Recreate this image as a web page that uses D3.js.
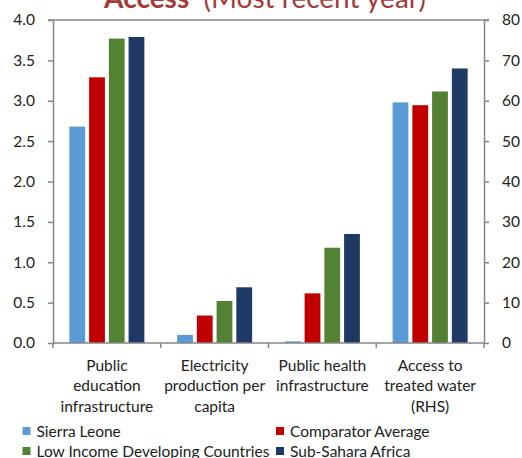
<!DOCTYPE html>
<html><head><meta charset="utf-8">
<script src="https://d3js.org/d3.v7.min.js"></script>
<style>body{margin:0;background:#fff}svg{display:block}text{font-family:Lato,"Open Sans",sans-serif}</style>
</head><body>
<script>
const categories = [["Public","education","infrastructure"],["Electricity","production per","capita"],["Public health","infrastructure"],["Access to","treated water","(RHS)"]];
const seriesNames = ["Sierra Leone","Comparator Average","Low Income Developing Countries","Sub-Sahara Africa"];
const sierraLeone = [2.68, 0.10, 0.02, 59.6];
const comparatorAvg = [3.29, 0.34, 0.615, 58.9];
const lowIncome = [3.77, 0.52, 1.18, 62.3];
const subSahara = [3.79, 0.69, 1.35, 68.0];
const colors = ["#5b9bd5","#c00000","#548235","#1f3864"];
const leftTicks = [0,0.5,1,1.5,2,2.5,3,3.5,4];
const rightTicks = [0,10,20,30,40,50,60,70,80];
const rhsIndex = 3;

const W=522,H=458, L=53, R=484, T=20, B=343, FS=15.5;
const svg=d3.select("body").append("svg").attr("width",W).attr("height",H);
const values=[sierraLeone,comparatorAvg,lowIncome,subSahara];
const x0=d3.scaleBand().domain(d3.range(categories.length)).range([L,R]).padding(0);
const x1=d3.scaleBand().domain(d3.range(seriesNames.length)).range([0,x0.bandwidth()]).paddingInner(0.2).paddingOuter(0.83);
const yL=d3.scaleLinear().domain([0,4]).range([B,T]);
const yR=d3.scaleLinear().domain([0,80]).range([B,T]);
const axisColor="#868686";

// bars
values.forEach((vals,si)=>{
  svg.append("g").selectAll("rect").data(vals).join("rect")
    .attr("x",(d,i)=>x0(i)+x1(si)).attr("width",x1.bandwidth())
    .attr("y",(d,i)=>(i===rhsIndex?yR:yL)(d))
    .attr("height",(d,i)=>B-(i===rhsIndex?yR:yL)(d))
    .attr("fill",colors[si]);
});

// axes
const gl=svg.append("g").attr("transform",`translate(${L},0)`)
  .call(d3.axisLeft(yL).tickValues(leftTicks).tickFormat(d3.format(".1f")).tickSize(5).tickSizeOuter(0).tickPadding(13));
const gr=svg.append("g").attr("transform",`translate(${R},0)`)
  .call(d3.axisRight(yR).tickValues(rightTicks).tickFormat(d3.format("d")).tickSize(5).tickSizeOuter(0).tickPadding(13));
[gl,gr].forEach(g=>{
  g.select(".domain").attr("stroke",axisColor).attr("stroke-width",1.5);
  g.selectAll(".tick line").attr("stroke",axisColor).attr("stroke-width",1.5);
  g.selectAll(".tick text").attr("font-size",FS).attr("fill","#222").attr("font-family","Lato");
});
svg.append("line").attr("x1",L-5).attr("x2",R+5).attr("y1",T).attr("y2",T).attr("stroke",axisColor).attr("stroke-width",1.5);
const gb=svg.append("g").attr("transform",`translate(0,${B})`);
gb.append("line").attr("x1",L).attr("x2",R).attr("stroke",axisColor).attr("stroke-width",1.5);
gb.selectAll("line.t").data(d3.range(categories.length+1)).join("line").attr("class","t")
  .attr("x1",i=>L+i*x0.step()).attr("x2",i=>L+i*x0.step()).attr("y1",0).attr("y2",5)
  .attr("stroke",axisColor).attr("stroke-width",1.5);
categories.forEach((lines,i)=>{
  const cx=x0(i)+x0.bandwidth()/2;
  const t=svg.append("text").attr("text-anchor","middle").attr("font-size",FS).attr("fill","#222");
  lines.forEach((ln,k)=>t.append("tspan").attr("x",cx).attr("y",370.5+k*20.5).text(ln));
});

// title (clipped at top as in the reference)
const title=svg.append("text").attr("x",265).attr("y",8).attr("text-anchor","middle").attr("font-size",28).attr("fill","#a33a3a");
title.append("tspan").attr("font-weight","bold").text("Access");
title.append("tspan").text("\u00a0\u00a0(Most recent year)");

// legend
const legPos=[[22.5,431],[276,431],[22.5,451],[276,451]];
seriesNames.forEach((n,i)=>{
  const [lx,ly]=legPos[i];
  svg.append("rect").attr("x",lx).attr("y",ly-4).attr("width",8).attr("height",8).attr("fill",colors[i]);
  svg.append("text").attr("x",lx+14).attr("y",ly+5.5).attr("font-size",FS).attr("fill","#222").text(n);
});
</script>
</body></html>
